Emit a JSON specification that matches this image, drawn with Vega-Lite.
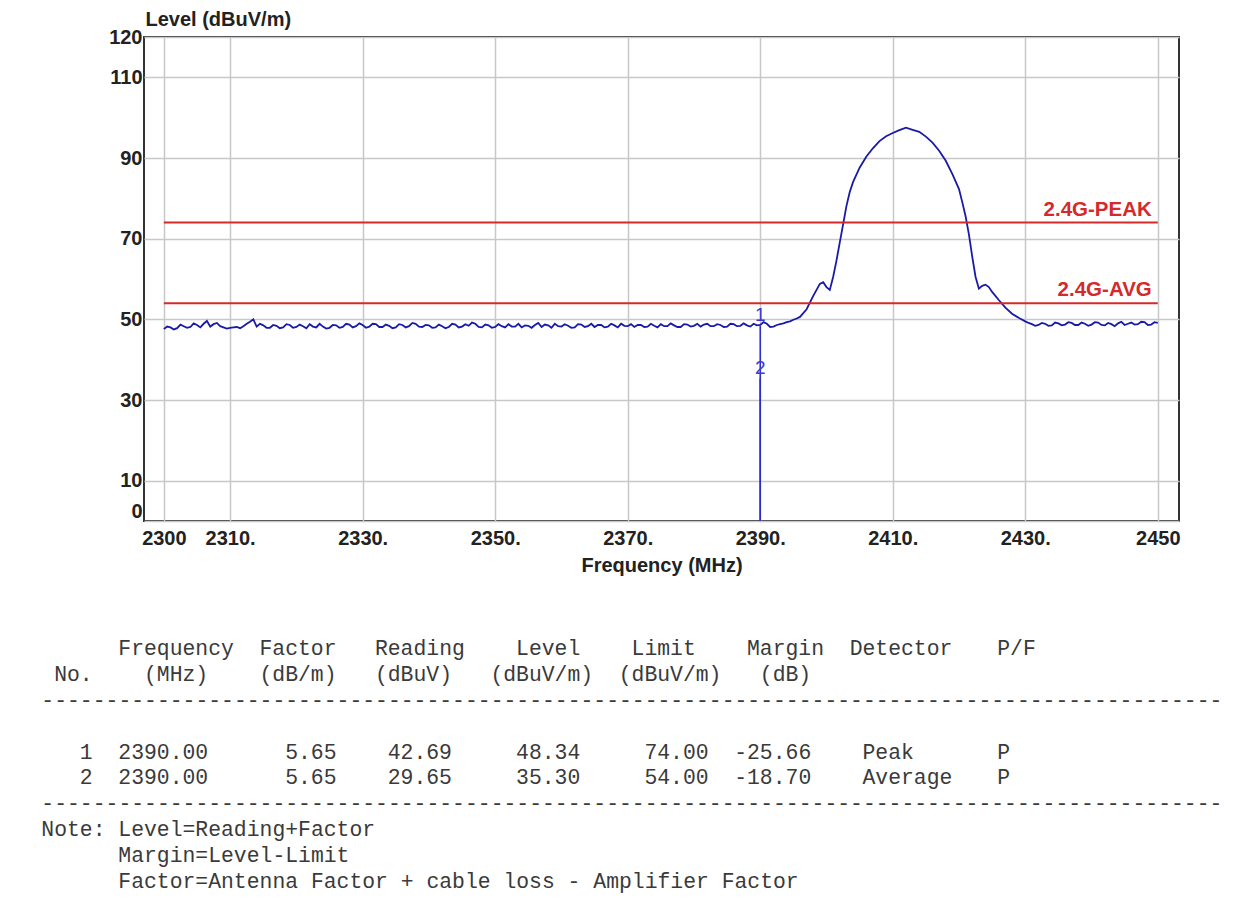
{
  "$schema": "https://vega.github.io/schema/vega-lite/v6.json",
  "background": "white",
  "padding": {"left": 41, "top": 8, "right": 5, "bottom": 5},
  "spacing": 60,
  "datasets": {
    "trace": [
      {"f":2300,"v":47.6},{"f":2300.5,"v":48.2},{"f":2301,"v":48.0},{"f":2301.5,"v":47.5},{"f":2302,"v":47.8},{"f":2302.5,"v":48.7},{"f":2303,"v":48.3},{"f":2303.5,"v":47.9},{"f":2304,"v":48.1},{"f":2304.5,"v":49.0},
      {"f":2305,"v":48.6},{"f":2305.5,"v":48.0},{"f":2306,"v":48.9},{"f":2306.5,"v":49.6},{"f":2307,"v":48.2},{"f":2307.5,"v":48.8},{"f":2308,"v":49.1},{"f":2308.5,"v":48.3},{"f":2309,"v":48.0},{"f":2309.5,"v":47.7},
      {"f":2310,"v":47.9},{"f":2310.5,"v":48.0},{"f":2311,"v":48.1},{"f":2311.5,"v":47.8},{"f":2312,"v":48.3},{"f":2312.5,"v":48.9},{"f":2313,"v":49.4},{"f":2313.5,"v":50.0},{"f":2314,"v":48.2},{"f":2314.5,"v":48.9},
      {"f":2315,"v":48.5},{"f":2315.5,"v":47.9},{"f":2316,"v":47.9},{"f":2316.5,"v":48.6},{"f":2317,"v":48.4},{"f":2317.5,"v":47.8},{"f":2318,"v":48.0},{"f":2318.5,"v":48.8},{"f":2319,"v":48.6},{"f":2319.5,"v":47.9},
      {"f":2320,"v":48.1},{"f":2320.5,"v":48.7},{"f":2321,"v":48.3},{"f":2321.5,"v":47.8},{"f":2322,"v":48.8},{"f":2322.5,"v":48.2},{"f":2323,"v":48.0},{"f":2323.5,"v":48.9},{"f":2324,"v":48.2},{"f":2324.5,"v":47.7},
      {"f":2325,"v":47.9},{"f":2325.5,"v":48.6},{"f":2326,"v":48.5},{"f":2326.5,"v":47.9},{"f":2327,"v":48.1},{"f":2327.5,"v":48.9},{"f":2328,"v":48.7},{"f":2328.5,"v":48.0},{"f":2329,"v":48.3},{"f":2329.5,"v":49.0},
      {"f":2330,"v":48.6},{"f":2330.5,"v":47.9},{"f":2331,"v":48.2},{"f":2331.5,"v":48.9},{"f":2332,"v":48.8},{"f":2332.5,"v":48.1},{"f":2333,"v":48.1},{"f":2333.5,"v":48.7},{"f":2334,"v":48.4},{"f":2334.5,"v":47.8},
      {"f":2335,"v":48.0},{"f":2335.5,"v":48.8},{"f":2336,"v":48.6},{"f":2336.5,"v":48.0},{"f":2337,"v":48.3},{"f":2337.5,"v":49.1},{"f":2338,"v":48.9},{"f":2338.5,"v":48.2},{"f":2339,"v":48.1},{"f":2339.5,"v":48.6},
      {"f":2340,"v":48.5},{"f":2340.5,"v":47.9},{"f":2341,"v":48.0},{"f":2341.5,"v":48.7},{"f":2342,"v":48.3},{"f":2342.5,"v":47.8},{"f":2343,"v":48.1},{"f":2343.5,"v":48.9},{"f":2344,"v":48.7},{"f":2344.5,"v":48.0},
      {"f":2345,"v":48.2},{"f":2345.5,"v":48.8},{"f":2346,"v":48.4},{"f":2346.5,"v":49.2},{"f":2347,"v":48.9},{"f":2347.5,"v":48.1},{"f":2348,"v":48.0},{"f":2348.5,"v":48.7},{"f":2349,"v":48.5},{"f":2349.5,"v":47.9},
      {"f":2350,"v":48.1},{"f":2350.5,"v":48.8},{"f":2351,"v":48.3},{"f":2351.5,"v":48.0},{"f":2352,"v":48.8},{"f":2352.5,"v":48.2},{"f":2353,"v":48.2},{"f":2353.5,"v":48.9},{"f":2354,"v":48.0},{"f":2354.5,"v":48.5},
      {"f":2355,"v":48.4},{"f":2355.5,"v":47.9},{"f":2356,"v":48.6},{"f":2356.5,"v":49.1},{"f":2357,"v":48.1},{"f":2357.5,"v":48.7},{"f":2358,"v":48.5},{"f":2358.5,"v":47.9},{"f":2359,"v":48.9},{"f":2359.5,"v":48.3},
      {"f":2360,"v":48.2},{"f":2360.5,"v":48.8},{"f":2361,"v":48.4},{"f":2361.5,"v":47.9},{"f":2362,"v":48.0},{"f":2362.5,"v":48.8},{"f":2363,"v":48.7},{"f":2363.5,"v":48.1},{"f":2364,"v":48.3},{"f":2364.5,"v":48.9},
      {"f":2365,"v":48.1},{"f":2365.5,"v":48.6},{"f":2366,"v":48.6},{"f":2366.5,"v":48.0},{"f":2367,"v":48.2},{"f":2367.5,"v":48.9},{"f":2368,"v":48.5},{"f":2368.5,"v":48.0},{"f":2369,"v":48.9},{"f":2369.5,"v":48.4},
      {"f":2370,"v":48.3},{"f":2370.5,"v":48.8},{"f":2371,"v":48.1},{"f":2371.5,"v":48.6},{"f":2372,"v":48.6},{"f":2372.5,"v":48.1},{"f":2373,"v":48.2},{"f":2373.5,"v":48.9},{"f":2374,"v":48.4},{"f":2374.5,"v":48.0},
      {"f":2375,"v":48.8},{"f":2375.5,"v":48.3},{"f":2376,"v":48.3},{"f":2376.5,"v":49.0},{"f":2377,"v":48.5},{"f":2377.5,"v":48.1},{"f":2378,"v":48.1},{"f":2378.5,"v":48.8},{"f":2379,"v":48.7},{"f":2379.5,"v":48.2},
      {"f":2380,"v":48.4},{"f":2380.5,"v":48.9},{"f":2381,"v":48.2},{"f":2381.5,"v":48.7},{"f":2382,"v":48.9},{"f":2382.5,"v":48.3},{"f":2383,"v":48.3},{"f":2383.5,"v":48.8},{"f":2384,"v":48.6},{"f":2384.5,"v":48.1},
      {"f":2385,"v":48.2},{"f":2385.5,"v":48.9},{"f":2386,"v":48.8},{"f":2386.5,"v":48.3},{"f":2387,"v":48.4},{"f":2387.5,"v":49.0},{"f":2388,"v":48.5},{"f":2388.5,"v":48.2},{"f":2389,"v":48.9},{"f":2389.5,"v":48.5},
      {"f":2390,"v":48.6},{"f":2390.5,"v":49.3},{"f":2391,"v":48.9},{"f":2391.5,"v":48.1},{"f":2392,"v":48.2},{"f":2392.5,"v":48.6},{"f":2393,"v":48.8},{"f":2393.5,"v":49.0},{"f":2394,"v":49.3},{"f":2394.5,"v":49.5},
      {"f":2395,"v":49.9},{"f":2395.5,"v":50.2},{"f":2396,"v":50.6},{"f":2397,"v":52.5},{"f":2398,"v":55.8},{"f":2399,"v":58.8},
      {"f":2399.5,"v":59.2},{"f":2400,"v":58.0},{"f":2400.5,"v":57.3},{"f":2401,"v":60.5},{"f":2401.5,"v":64.5},{"f":2402,"v":69.0},{"f":2402.5,"v":73.5},{"f":2403,"v":78.0},{"f":2403.5,"v":81.5},{"f":2404,"v":84.0},
      {"f":2405,"v":87.6},{"f":2406,"v":90.3},{"f":2407,"v":92.4},{"f":2408,"v":94.2},{"f":2409,"v":95.4},{"f":2410,"v":96.2},{"f":2411,"v":96.9},{"f":2412,"v":97.5},{"f":2413,"v":97.0},{"f":2414,"v":96.5},
      {"f":2415,"v":95.3},{"f":2416,"v":93.8},{"f":2417,"v":91.8},{"f":2418,"v":89.3},{"f":2419,"v":86.0},{"f":2420,"v":82.3},{"f":2420.5,"v":79.0},{"f":2421,"v":75.5},{"f":2421.5,"v":71.0},{"f":2422,"v":65.5},
      {"f":2422.5,"v":60.5},{"f":2423,"v":57.6},{"f":2423.5,"v":58.3},{"f":2424,"v":58.6},{"f":2424.5,"v":58.0},{"f":2425,"v":56.8},{"f":2426,"v":54.8},{"f":2427,"v":52.9},{"f":2428,"v":51.4},{"f":2429,"v":50.4},
      {"f":2430,"v":49.5},{"f":2430.5,"v":49.1},{"f":2431,"v":48.8},{"f":2431.5,"v":48.4},{"f":2432,"v":48.6},{"f":2432.5,"v":49.1},{"f":2433,"v":48.9},{"f":2433.5,"v":48.4},{"f":2434,"v":48.5},{"f":2434.5,"v":49.2},
      {"f":2435,"v":49.0},{"f":2435.5,"v":48.5},{"f":2436,"v":48.7},{"f":2436.5,"v":49.3},{"f":2437,"v":49.1},{"f":2437.5,"v":48.6},{"f":2438,"v":48.6},{"f":2438.5,"v":49.2},{"f":2439,"v":48.9},{"f":2439.5,"v":48.4},
      {"f":2440,"v":48.7},{"f":2440.5,"v":49.3},{"f":2441,"v":49.2},{"f":2441.5,"v":48.6},{"f":2442,"v":48.5},{"f":2442.5,"v":49.1},{"f":2443,"v":48.8},{"f":2443.5,"v":48.3},{"f":2444,"v":49.0},{"f":2444.5,"v":49.4},
      {"f":2445,"v":48.6},{"f":2445.5,"v":48.9},{"f":2446,"v":49.2},{"f":2446.5,"v":48.7},{"f":2447,"v":48.8},{"f":2447.5,"v":49.4},{"f":2448,"v":49.3},{"f":2448.5,"v":48.6},{"f":2449,"v":48.7},{"f":2449.5,"v":49.3},
      {"f":2450,"v":49.1}
    ],
    "limits": [
      {"name": "2.4G-PEAK", "level": 74, "f1": 2300, "f2": 2450},
      {"name": "2.4G-AVG", "level": 54, "f1": 2300, "f2": 2450}
    ],
    "markers": [
      {"no": "1", "f": 2390, "level": 48.34, "base": 0},
      {"no": "2", "f": 2390, "level": 35.30, "base": 0}
    ],
    "table": [
      {"line": 0, "col": 6, "text": "Frequency"},
      {"line": 0, "col": 17, "text": "Factor"},
      {"line": 0, "col": 26, "text": "Reading"},
      {"line": 0, "col": 37, "text": "Level"},
      {"line": 0, "col": 46, "text": "Limit"},
      {"line": 0, "col": 55, "text": "Margin"},
      {"line": 0, "col": 63, "text": "Detector"},
      {"line": 0, "col": 74.5, "text": "P/F"},
      {"line": 1, "col": 1, "text": "No."},
      {"line": 1, "col": 8, "text": "(MHz)"},
      {"line": 1, "col": 17, "text": "(dB/m)"},
      {"line": 1, "col": 26, "text": "(dBuV)"},
      {"line": 1, "col": 35, "text": "(dBuV/m)"},
      {"line": 1, "col": 45, "text": "(dBuV/m)"},
      {"line": 1, "col": 56, "text": "(dB)"},
      {"line": 2, "col": 0, "text": "--------------------------------------------------------------------------------------------"},
      {"line": 4, "col": 3, "text": "1"},
      {"line": 4, "col": 6, "text": "2390.00"},
      {"line": 4, "col": 19, "text": "5.65"},
      {"line": 4, "col": 27, "text": "42.69"},
      {"line": 4, "col": 37, "text": "48.34"},
      {"line": 4, "col": 47, "text": "74.00"},
      {"line": 4, "col": 54, "text": "-25.66"},
      {"line": 4, "col": 64, "text": "Peak"},
      {"line": 4, "col": 74.5, "text": "P"},
      {"line": 5, "col": 3, "text": "2"},
      {"line": 5, "col": 6, "text": "2390.00"},
      {"line": 5, "col": 19, "text": "5.65"},
      {"line": 5, "col": 27, "text": "29.65"},
      {"line": 5, "col": 37, "text": "35.30"},
      {"line": 5, "col": 47, "text": "54.00"},
      {"line": 5, "col": 54, "text": "-18.70"},
      {"line": 5, "col": 64, "text": "Average"},
      {"line": 5, "col": 74.5, "text": "P"},
      {"line": 6, "col": 0, "text": "--------------------------------------------------------------------------------------------"},
      {"line": 7, "col": 0, "text": "Note:"},
      {"line": 7, "col": 6, "text": "Level=Reading+Factor"},
      {"line": 8, "col": 6, "text": "Margin=Level-Limit"},
      {"line": 9, "col": 6, "text": "Factor=Antenna Factor + cable loss - Amplifier Factor"}
    ]
  },
  "vconcat": [
    {
      "width": 1035,
      "height": 484,
      "layer": [
        {
          "data": {"name": "trace"},
          "mark": {"type": "line", "color": "#1a1aa8", "strokeWidth": 1.8, "interpolate": "linear"},
          "encoding": {
            "x": {
              "field": "f", "type": "quantitative",
              "scale": {"domain": [2297, 2453.2], "nice": false, "zero": false},
              "axis": {
                "values": [2300, 2310, 2330, 2350, 2370, 2390, 2410, 2430, 2450],
                "format": "d",
                "labelExpr": "datum.value == 2300 || datum.value == 2450 ? datum.label : datum.label + '.'",
                "labelFlush": false,
                "labelPadding": 7,
                "title": "Frequency (MHz)",
                "titlePadding": 7
              }
            },
            "y": {
              "field": "v", "type": "quantitative",
              "scale": {"domain": [0, 120], "nice": false},
              "axis": {
                "values": [0, 10, 30, 50, 70, 90, 110, 120],
                "labelPadding": 2,
                "labelBaseline": {"condition": {"test": "datum.value == 0", "value": "bottom"}, "value": "middle"},
                "title": "Level (dBuV/m)",
                "titleAngle": 0,
                "titleAlign": "left",
                "titleBaseline": "middle",
                "titleX": 1,
                "titleY": -18
              }
            }
          }
        },
        {
          "data": {"name": "limits"},
          "mark": {"type": "rule", "color": "#d42a2a", "strokeWidth": 2},
          "encoding": {
            "x": {"field": "f1", "type": "quantitative"},
            "x2": {"field": "f2"},
            "y": {"field": "level", "type": "quantitative"}
          }
        },
        {
          "data": {"name": "limits"},
          "mark": {"type": "text", "align": "right", "baseline": "middle", "dx": -6, "dy": -13, "font": "Liberation Sans", "fontWeight": "bold", "fontSize": 20.5, "color": "#d42a2a"},
          "encoding": {
            "x": {"field": "f2", "type": "quantitative"},
            "y": {"field": "level", "type": "quantitative"},
            "text": {"field": "name"}
          }
        },
        {
          "data": {"name": "markers"},
          "mark": {"type": "rule", "color": "#2a2ad0", "strokeWidth": 1.5},
          "encoding": {
            "x": {"field": "f", "type": "quantitative"},
            "y": {"field": "level", "type": "quantitative"},
            "y2": {"field": "base"}
          }
        },
        {
          "data": {"name": "markers"},
          "mark": {"type": "text", "align": "center", "baseline": "middle", "dy": -11, "font": "Liberation Sans", "fontSize": 19, "color": "#3a3ad0"},
          "encoding": {
            "x": {"field": "f", "type": "quantitative"},
            "y": {"field": "level", "type": "quantitative"},
            "text": {"field": "no"}
          }
        }
      ]
    },
    {
      "width": 1000,
      "height": 259,
      "view": {"stroke": null},
      "data": {"name": "table"},
      "mark": {"type": "text", "align": "left", "baseline": "middle", "font": "Liberation Mono", "fontSize": 21.4, "color": "#3a3a3a"},
      "encoding": {
        "x": {"field": "col", "type": "quantitative", "scale": {"domain": [8, 85.94], "nice": false, "zero": false}, "axis": null},
        "y": {"field": "line", "type": "quantitative", "scale": {"domain": [-0.5, 9.5], "nice": false, "zero": false, "reverse": true}, "axis": null},
        "text": {"field": "text"}
      }
    }
  ],
  "config": {
    "font": "Liberation Sans",
    "view": {"stroke": "#333333", "strokeWidth": 2},
    "axis": {
      "grid": true,
      "gridColor": "#c8c8c8",
      "gridWidth": 1.5,
      "ticks": false,
      "domain": false,
      "labelFont": "Liberation Sans",
      "labelFontWeight": "bold",
      "labelFontSize": 20,
      "labelColor": "#222222",
      "titleFont": "Liberation Sans",
      "titleFontWeight": "bold",
      "titleFontSize": 20,
      "titleColor": "#222222"
    }
  }
}
